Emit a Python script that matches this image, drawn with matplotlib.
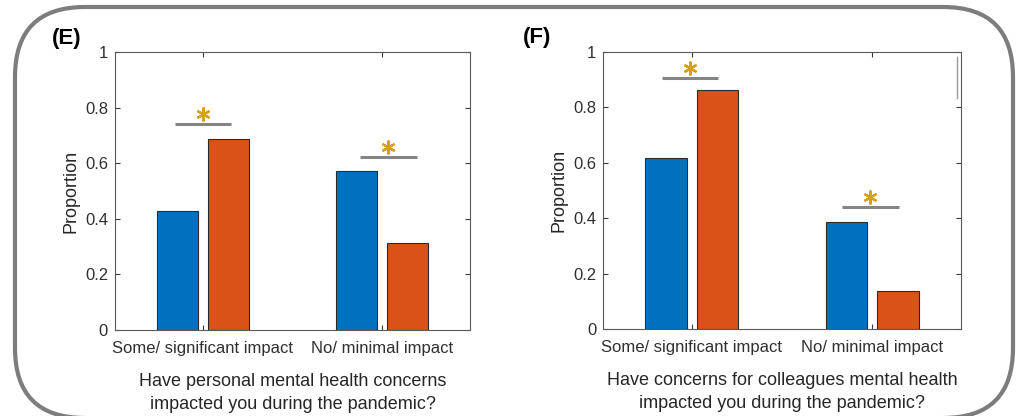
import numpy as np
import matplotlib.pyplot as plt
from matplotlib.patches import FancyBboxPatch

plt.rcParams['font.family'] = ['Liberation Sans', 'DejaVu Sans']

# survey proportions for each panel
categories = ["Some/ significant impact", "No/ minimal impact"]
e_blue = [0.429, 0.571]
e_orange = [0.686, 0.314]
f_blue = [0.617, 0.386]
f_orange = [0.862, 0.138]

# significance bars (height of line, centre of line)
e_sig_y = [0.741, 0.622]
e_sig_x = [1.0, 2.035]
f_sig_y = [0.906, 0.44]
f_sig_x = [0.99, 1.99]

e_xlabel = "Have personal mental health concerns\nimpacted you during the pandemic?"
f_xlabel = "Have concerns for colleagues mental health\nimpacted you during the pandemic?"

BLUE = '#0072BD'
ORANGE = '#D95319'
GOLD = '#D6A10F'
GRAY = '#858585'

fig = plt.figure(figsize=(10.16, 4.16), dpi=100)

# rounded frame round both panels
frame = FancyBboxPatch((0.15, -0.02), 9.98, 4.11,
                       boxstyle="round,pad=0,rounding_size=0.7",
                       transform=fig.dpi_scale_trans, fill=False,
                       edgecolor='#7d7d7d', linewidth=3.0, clip_on=False)
fig.patches.append(frame)


def panel(rect, blue, orange, sig_y, sig_x, xlabel, tag, tag_x):
    ax = fig.add_axes(rect)
    x = np.arange(1, len(categories) + 1)
    w = 0.2286
    ax.bar(x - 0.1429, blue, w, color=BLUE, edgecolor='#2b2b2b', linewidth=0.8)
    ax.bar(x + 0.1429, orange, w, color=ORANGE, edgecolor='#2b2b2b', linewidth=0.8)
    for cx, sy in zip(sig_x, sig_y):
        ax.plot([cx - 0.157, cx + 0.157], [sy, sy], color=GRAY, lw=2.2,
                solid_capstyle='butt')
        ax.plot(cx, sy + 0.037, marker=(6, 2, 0), ms=10, mew=1.6, color=GOLD)
    ax.set_xlim(0.51, 2.49)
    ax.set_ylim(0, 1)
    ax.set_xticks(x)
    ax.set_xticklabels(categories)
    ax.set_yticks([0, 0.2, 0.4, 0.6, 0.8, 1])
    ax.set_yticklabels(['0', '0.2', '0.4', '0.6', '0.8', '1'])
    ax.tick_params(direction='in', length=3.5, width=0.8, top=True, right=True,
                   labelsize=12, colors='#3a3a3a', labelcolor='#303030')
    ax.tick_params(axis='x', pad=8)
    ax.tick_params(axis='y', pad=5)
    for s in ax.spines.values():
        s.set_color('#5a5a5a')
        s.set_linewidth(0.8)
    ax.set_ylabel("Proportion", fontsize=13, color='#262626', labelpad=4)
    ax.set_xlabel(xlabel, fontsize=13, color='#262626', labelpad=12,
                  linespacing=1.5)
    ax.text(tag_x, 1.05, tag, transform=ax.transAxes, fontsize=16,
            fontweight='bold', ha='center', va='center')
    return ax


panel([0.1132, 0.2067, 0.3494, 0.6683], e_blue, e_orange, e_sig_y, e_sig_x,
      e_xlabel, "(E)", -0.137)
ax_f = panel([0.5938, 0.2091, 0.3518, 0.6666], f_blue, f_orange, f_sig_y, f_sig_x,
             f_xlabel, "(F)", -0.185)
# stray rule near the top right of panel F
ax_f.plot([0.9905, 0.9905], [0.833, 0.982], transform=ax_f.transAxes,
          color='#9a9a9a', lw=1.0)

fig.savefig("out.png", dpi=100)
